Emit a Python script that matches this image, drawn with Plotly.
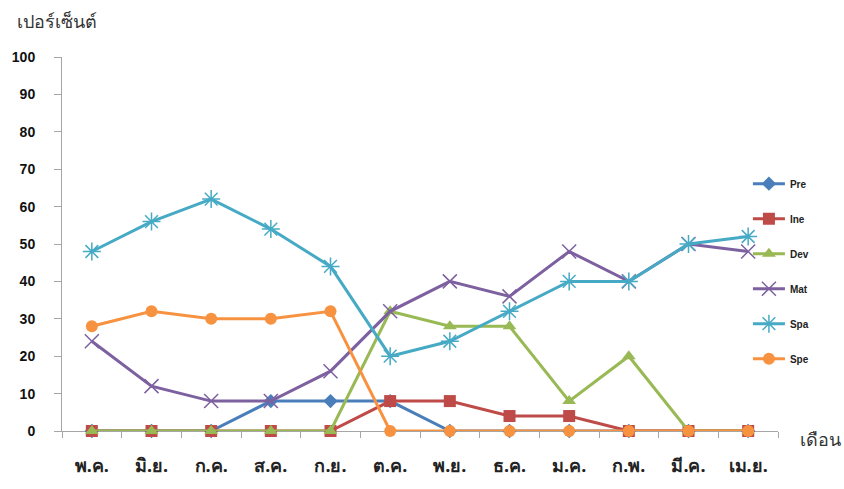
import plotly.graph_objects as go

months = ["พ.ค.", "มิ.ย.", "ก.ค.", "ส.ค.", "ก.ย.", "ต.ค.", "พ.ย.", "ธ.ค.", "ม.ค.", "ก.พ.", "มี.ค.", "เม.ย."]
pre = [0, 0, 0, 8, 8, 8, 0, 0, 0, 0, 0, 0]
ine = [0, 0, 0, 0, 0, 8, 8, 4, 4, 0, 0, 0]
dev = [0, 0, 0, 0, 0, 32, 28, 28, 8, 20, 0, 0]
mat = [24, 12, 8, 8, 16, 32, 40, 36, 48, 40, 50, 48]
spa = [48, 56, 62, 54, 44, 20, 24, 32, 40, 40, 50, 52]
spe = [28, 32, 30, 30, 32, 0, 0, 0, 0, 0, 0, 0]
y_ticks = [0, 10, 20, 30, 40, 50, 60, 70, 80, 90, 100]

series = [
    ("Pre", pre, "#4A7EBB", dict(symbol="diamond", size=11)),
    ("Ine", ine, "#BE4B48", dict(symbol="square", size=12)),
    ("Dev", dev, "#98B954", dict(symbol="triangle-up", size=12)),
    ("Mat", mat, "#7D60A0", dict(symbol="x-thin-open", size=14, line=dict(width=1.5))),
    ("Spa", spa, "#46AAC5", dict(symbol="asterisk-open", size=15, line=dict(width=1.5))),
    ("Spe", spe, "#F69240", dict(symbol="circle", size=12)),
]

fig = go.Figure()
for i, (name, vals, color, mk) in enumerate(series):
    marker = dict(color=color, **mk)
    if "line" in marker:
        marker["line"] = dict(color=color, width=mk["line"]["width"])
    fig.add_trace(go.Scatter(
        x=months, y=vals, name=name, mode="lines+markers",
        line=dict(color=color, width=3),
        marker=marker, cliponaxis=False, legendgroup=name,
    ))

fig.update_layout(
    width=844, height=489,
    margin=dict(l=59, r=66, t=57, b=57),
    plot_bgcolor="white", paper_bgcolor="white",
    font=dict(family="Liberation Sans, Arial, sans-serif", color="#222"),
    legend=dict(
        x=0.958, y=0.70, xanchor="left", yanchor="top",
        font=dict(size=10, color="#222", family="Liberation Sans, Arial, sans-serif", weight="bold"),
        bgcolor="rgba(0,0,0,0)", tracegroupgap=16, itemwidth=32,
    ),
    xaxis=dict(
        type="category", range=[-0.5, 11.5],
        showline=True, linecolor="#A6A6A6", linewidth=1,
        ticks="outside", tickson="boundaries", ticklen=6, tickcolor="#A6A6A6",
        showgrid=False, zeroline=False, layer="below traces",
        tickfont=dict(size=18, color="#222", family="Noto Sans, Liberation Sans, sans-serif", weight="bold"),
        ticklabelstandoff=18,
    ),
    yaxis=dict(
        range=[0, 100], tickvals=y_ticks,
        showline=True, linecolor="#A6A6A6", linewidth=1,
        ticks="outside", ticklen=7, tickcolor="#A6A6A6",
        showgrid=False, zeroline=False, layer="below traces",
        tickfont=dict(size=14, color="#111", family="Liberation Sans, Arial, sans-serif", weight="bold"),
        ticklabelstandoff=16,
    ),
    annotations=[
        dict(text="เปอร์เซ็นต์", xref="paper", yref="paper", x=-0.065, y=1.0, yshift=22,
             xanchor="left", yanchor="bottom", showarrow=False,
             font=dict(size=18, color="#333", family="Noto Sans, sans-serif")),
        dict(text="เดือน", xref="paper", yref="paper", x=1.0, y=0, xshift=20, yshift=-8,
             xanchor="left", yanchor="middle", showarrow=False,
             font=dict(size=18, color="#333", family="Noto Sans, sans-serif")),
    ],
)

fig.write_html("out.html")
